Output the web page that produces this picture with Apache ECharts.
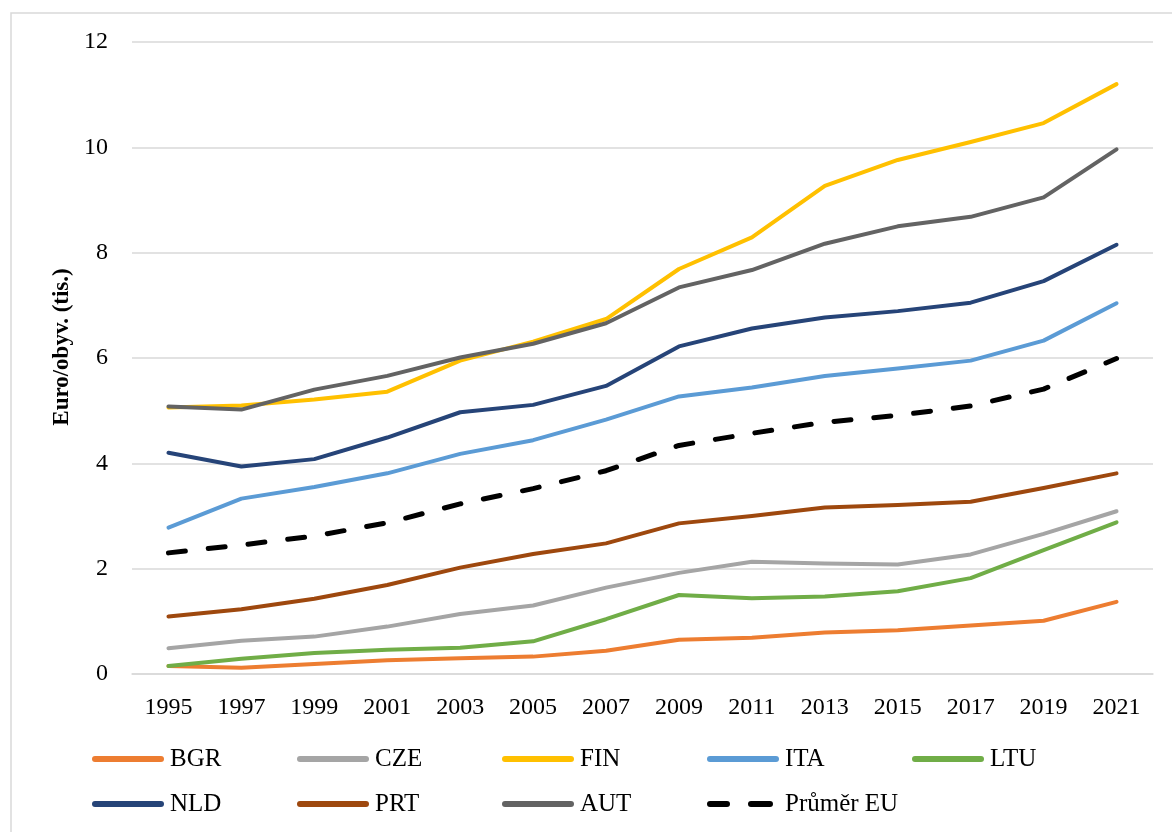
<!DOCTYPE html>
<html>
<head>
<meta charset="utf-8">
<script src="https://cdn.jsdelivr.net/npm/echarts@6/dist/echarts.min.js"></script>
<style>
html,body{margin:0;padding:0;background:#fff;}
#chart{width:1172px;height:832px;}
</style>
</head>
<body>
<div id="chart"></div>
<script>
const years = ['1995','1997','1999','2001','2003','2005','2007','2009','2011','2013','2015','2017','2019','2021'];
const BGR = [0.15,0.12,0.19,0.26,0.30,0.33,0.44,0.65,0.69,0.79,0.83,0.92,1.01,1.37];
const CZE = [0.49,0.63,0.71,0.90,1.14,1.30,1.64,1.92,2.13,2.10,2.08,2.27,2.66,3.09];
const FIN = [5.06,5.10,5.21,5.36,5.95,6.31,6.74,7.69,8.29,9.27,9.76,10.10,10.46,11.20];
const ITA = [2.78,3.33,3.55,3.81,4.18,4.44,4.83,5.27,5.44,5.66,5.80,5.95,6.33,7.04];
const LTU = [0.15,0.29,0.40,0.46,0.50,0.62,1.04,1.50,1.44,1.47,1.57,1.82,2.35,2.88];
const NLD = [4.20,3.94,4.08,4.49,4.97,5.11,5.47,6.22,6.56,6.77,6.89,7.05,7.46,8.15];
const PRT = [1.09,1.23,1.43,1.69,2.02,2.28,2.48,2.86,3.00,3.16,3.21,3.27,3.53,3.81];
const AUT = [5.08,5.02,5.40,5.66,6.01,6.27,6.66,7.34,7.67,8.17,8.50,8.68,9.05,9.96];
const EU  = [2.30,2.45,2.62,2.87,3.23,3.52,3.86,4.34,4.57,4.78,4.91,5.09,5.41,5.99];
const yTicks = [0,2,4,6,8,10,12];

const seriesDefs = [
  {name:'BGR', data:BGR, color:'#ED7D31'},
  {name:'CZE', data:CZE, color:'#A5A5A5'},
  {name:'FIN', data:FIN, color:'#FFC000'},
  {name:'ITA', data:ITA, color:'#5B9BD5'},
  {name:'LTU', data:LTU, color:'#70AD47'},
  {name:'NLD', data:NLD, color:'#264478'},
  {name:'PRT', data:PRT, color:'#9E480E'},
  {name:'AUT', data:AUT, color:'#636363'},
  {name:'Průměr EU', data:EU, color:'#000000', dashed:true}
];

const font = '"Liberation Serif","Times New Roman",serif';
const colLefts = [92, 297, 502, 707, 912];
const rowTops = [739, 784];
const solidIcon = 'path://M3,0 L69,0 A3,3 0 0 1 69,6 L3,6 A3,3 0 0 1 3,0 Z';
const dashIcon = 'path://M3,0 L20,0 A3,3 0 0 1 20,6 L3,6 A3,3 0 0 1 3,0 Z M44,0 L63,0 A3,3 0 0 1 63,6 L44,6 A3,3 0 0 1 44,0 Z';

const legends = seriesDefs.map((s, i) => {
  const row = i < 5 ? 0 : 1;
  const col = i < 5 ? i : i - 5;
  const w = s.dashed ? 66 : 72;
  return {
    left: colLefts[col],
    top: rowTops[row],
    padding: [5, 0, 5, 0],
    itemWidth: w,
    itemHeight: 6,
    icon: s.dashed ? dashIcon : solidIcon,
    data: [s.name],
    itemStyle: {color: s.color, borderWidth: 0},
    lineStyle: {width: 0},
    textStyle: {fontFamily: font, fontSize: 25, lineHeight: 30, color: '#000', padding: [0, 0, 0, 78 - w - 5]}
  };
});

const chart = echarts.init(document.getElementById('chart'));
chart.setOption({
  animation: false,
  backgroundColor: '#fff',
  graphic: [{
    type: 'rect', silent: true, z: -1,
    shape: {x: 11, y: 13, width: 1300, height: 1000},
    style: {fill: 'none', stroke: '#d9d9d9', lineWidth: 1.5}
  }],
  grid: {left: 132, right: 19, top: 42, bottom: 158, containLabel: false},
  legend: legends,
  xAxis: {
    type: 'category',
    data: years,
    boundaryGap: true,
    axisLine: {show: true, lineStyle: {color: '#d9d9d9', width: 1.5}},
    axisTick: {show: false},
    axisLabel: {fontFamily: font, fontSize: 24, color: '#000', margin: 22, interval: 0}
  },
  yAxis: {
    type: 'value',
    min: yTicks[0], max: yTicks[yTicks.length-1], interval: 2,
    name: 'Euro/obyv. (tis.)',
    nameLocation: 'middle',
    nameGap: 58,
    nameTextStyle: {fontFamily: font, fontSize: 23, fontWeight: 'bold', color: '#000', padding: [0, 0, 0, 22]},
    axisLine: {show: false},
    axisTick: {show: false},
    splitLine: {lineStyle: {color: '#d9d9d9', width: 1.5}},
    axisLabel: {fontFamily: font, fontSize: 24, color: '#000', margin: 24}
  },
  series: seriesDefs.map(s => ({
    name: s.name,
    type: 'line',
    data: s.data,
    symbol: 'none',
    smooth: false,
    color: s.color,
    lineStyle: s.dashed
      ? {color: s.color, width: 5, type: [17, 23], cap: 'round', join: 'round'}
      : {color: s.color, width: 4, cap: 'round', join: 'round'},
    emphasis: {disabled: true}
  }))
});
</script>
</body>
</html>
